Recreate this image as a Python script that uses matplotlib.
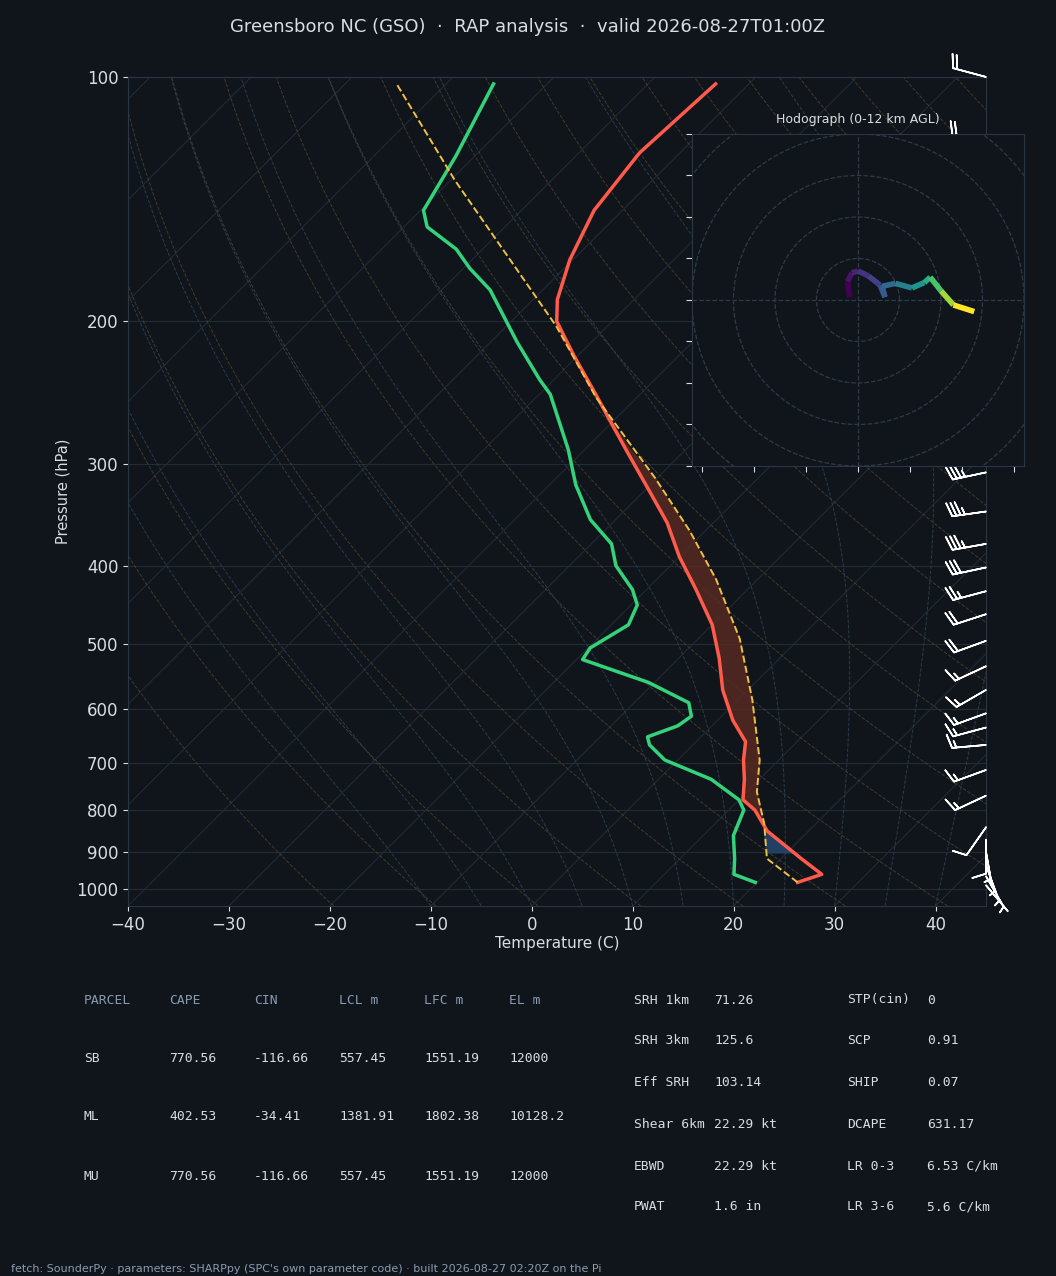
import numpy as np
import matplotlib
matplotlib.use("Agg")
import matplotlib.pyplot as plt
from matplotlib.collections import LineCollection

BG = "#10151c"
FG = "#d8dde3"
SPINE = "#2c3643"

# sounding (hPa, C)
t_pres = [982, 960, 918, 849, 800, 777, 733, 694, 659, 620, 569, 520, 473, 428, 390, 354, 323, 290, 246, 220, 200, 188, 168, 146, 124, 102]
t_temp = [24.0, 25.6, 22.0, 15.9, 12.6, 10.4, 8.5, 6.5, 4.9, 1.5, -2.5, -6.0, -10.0, -15.1, -20.0, -24.6, -29.6, -35.5, -44.4, -50.5, -55.5, -57.6, -60.3, -62.8, -64.0, -63.3]
d_pres = [982, 960, 918, 860, 800, 777, 733, 694, 665, 650, 630, 613, 590, 557, 522, 505, 473, 447, 428, 400, 376, 351, 318, 288, 246, 236, 212, 183, 172, 163, 153, 146, 125, 102]
d_temp = [19.8, 16.9, 15.4, 13.0, 11.5, 10.0, 5.2, -1.3, -4.3, -5.3, -3.4, -3.0, -4.6, -10.6, -19.4, -19.8, -18.3, -19.4, -21.4, -25.4, -28.0, -32.5, -37.4, -41.6, -48.9, -51.4, -57.4, -65.2, -69.4, -72.6, -77.7, -79.7, -81.9, -85.3]
pcl_pres = [982, 918, 830, 760, 694, 585, 492, 416, 362, 312, 248, 203, 134, 102]
pcl_temp = [24.0, 18.6, 14.8, 11.0, 8.1, 1.4, -5.9, -14.1, -21.6, -30.2, -44.1, -55.0, -79.6, -94.9]

# winds (hPa, kt, direction-from deg)
w_pres = [990, 965, 935, 900, 870, 840, 768, 714, 665, 633, 608, 569, 532, 495, 459, 430, 402, 376, 343, 307, 275, 245, 215, 190, 165, 140, 120, 100]
w_spd = [5, 5, 5, 5, 10, 10, 15, 15, 15, 15, 15, 15, 15, 20, 20, 25, 30, 35, 35, 35, 35, 35, 30, 30, 25, 25, 20, 20]
w_dir = [140, 150, 160, 170, 180, 215, 245, 250, 265, 255, 250, 240, 245, 250, 252, 255, 258, 260, 262, 258, 260, 262, 265, 268, 270, 275, 280, 285]

# hodograph (kt)
hodo_u = [-2.0, -2.5, -1.5, 0.0, 2.5, 5.3, 6.5, 5.8, 9.0, 13.0, 16.0, 17.4, 20.0, 23.0, 28.0]
hodo_v = [0.7, 4.5, 6.5, 7.0, 5.8, 3.6, 0.7, 3.3, 4.0, 2.9, 4.2, 5.5, 2.2, -1.2, -2.8]
hodo_z = [0, 0.5, 1.0, 1.5, 2.0, 2.5, 3.0, 3.5, 4.5, 5.5, 6.5, 7.5, 9.0, 10.5, 12.0]

SKEW = 80.5  # C per decade of pressure


def skx(t, p):
    return np.asarray(t) + SKEW * np.log10(1050.0 / np.asarray(p))


fig = plt.figure(figsize=(10.56, 12.76), dpi=100, facecolor=BG)
ax = fig.add_axes([0.1212, 0.29, 0.8125, 0.6497], facecolor=BG)
ax.set_yscale("log")
ax.set_ylim(1050, 100)
ax.set_xlim(-40, 45)

pg = np.logspace(np.log10(1050), 2, 120)
for p0 in [100, 200, 300, 400, 500, 600, 700, 800, 900, 1000]:
    ax.axhline(p0, color="#232b35", lw=0.8, zorder=1)
for t0 in range(-140, 60, 10):
    ax.plot(skx(t0, pg), pg, color="#222a34", lw=0.8, zorder=1)
for th in range(250, 480, 10):
    tt = th * (pg / 1000.0) ** 0.286 - 273.15
    ax.plot(skx(tt, pg), pg, color="#554a30", lw=0.7, ls="--", alpha=0.7, zorder=1)
# moist adiabats (simple pseudo-adiabatic integration)
for ts in range(-10, 45, 5):
    tk = ts + 273.15
    tl = []
    pp = np.logspace(np.log10(1050), 2, 300)
    for i, p in enumerate(pp):
        tl.append(tk - 273.15)
        if i + 1 < len(pp):
            es = 6.112 * np.exp(17.67 * (tk - 273.15) / (tk - 29.65))
            rs = 0.622 * es / (p - es)
            lapse = (287 * tk + 2.5e6 * rs) / (1004 + 2.5e6 ** 2 * rs * 0.622 / (287 * tk ** 2)) / p
            tk += lapse * (pp[i + 1] - p)
    ax.plot(skx(tl, pp), pp, color="#2b3a4a", lw=0.7, ls="--", zorder=1)

# CAPE / CIN shading
pf = np.linspace(980, 250, 300)
tpf = np.interp(pf[::-1], t_pres[::-1], t_temp[::-1])[::-1]
ppf = np.interp(pf[::-1], pcl_pres[::-1], pcl_temp[::-1])[::-1]
ax.fill_betweenx(pf, skx(tpf, pf), skx(ppf, pf), where=(ppf > tpf) & (pf < 820),
                 color="#5a2a22", alpha=0.8, zorder=2)
ax.fill_betweenx(pf, skx(tpf, pf), skx(ppf, pf), where=(tpf > ppf) & (pf > 800) & (pf < 902),
                 color="#24456b", alpha=0.9, zorder=2)

ax.plot(skx(t_temp, t_pres), t_pres, color="#ff5a4a", lw=2.5, zorder=4)
ax.plot(skx(d_temp, d_pres), d_pres, color="#34d27a", lw=2.5, zorder=4)
ax.plot(skx(pcl_temp, pcl_pres), pcl_pres, color="#f0c040", lw=1.4, ls="--", zorder=4)

wd = np.deg2rad(w_dir)
wu = -np.array(w_spd) * np.sin(wd)
wv = -np.array(w_spd) * np.cos(wd)
ax.barbs(np.full(len(w_pres), 45.0), w_pres, wu, wv, color="white", length=7,
         linewidth=1.2, clip_on=False, zorder=5)

ax.set_yticks([100, 200, 300, 400, 500, 600, 700, 800, 900, 1000])
ax.set_yticklabels(["100", "200", "300", "400", "500", "600", "700", "800", "900", "1000"])
ax.yaxis.set_minor_locator(matplotlib.ticker.NullLocator())
ax.set_xticks(range(-40, 50, 10))
ax.tick_params(colors=FG, labelsize=12)
for s in ax.spines.values():
    s.set_color(SPINE)
ax.set_xlabel("Temperature (C)", color=FG, fontsize=11, labelpad=2)
ax.set_ylabel("Pressure (hPa)", color=FG, fontsize=10.5)

# hodograph
hx = fig.add_axes([0.6553, 0.6348, 0.3144, 0.2602], facecolor=BG)
hx.set_xlim(-40, 40)
hx.set_ylim(-40, 40)
ang = np.linspace(0, 2 * np.pi, 200)
for r in range(10, 70, 10):
    hx.plot(r * np.cos(ang), r * np.sin(ang), color="#2e3a48", lw=0.9, ls="--")
hx.axhline(0, color="#2e3a48", lw=0.9, ls="--")
hx.axvline(0, color="#2e3a48", lw=0.9, ls="--")
pts = np.array([hodo_u, hodo_v]).T.reshape(-1, 1, 2)
segs = np.concatenate([pts[:-1], pts[1:]], axis=1)
lc = LineCollection(segs, cmap="viridis", linewidths=4)
lc.set_array(np.array(hodo_z[:-1]))
hx.add_collection(lc)
hx.set_xticks(np.arange(-37.5, 40, 12.5))
hx.set_yticks(range(-40, 41, 10))
hx.set_xticklabels([])
hx.set_yticklabels([])
hx.tick_params(colors=FG, length=4)
for s in hx.spines.values():
    s.set_color(SPINE)
hx.set_title("Hodograph (0-12 km AGL)", color=FG, fontsize=9, pad=8)

fig.text(0.5, 0.979, "Greensboro NC (GSO)  ·  RAP analysis  ·  valid 2026-08-27T01:00Z",
         color=FG, fontsize=13, ha="center", va="center")

# parameter table
MONO = dict(family="DejaVu Sans Mono", fontsize=9.4, va="center")
hdr = ["PARCEL", "CAPE", "CIN", "LCL m", "LFC m", "EL m"]
rows = [["SB", "770.56", "-116.66", "557.45", "1551.19", "12000"],
        ["ML", "402.53", "-34.41", "1381.91", "1802.38", "10128.2"],
        ["MU", "770.56", "-116.66", "557.45", "1551.19", "12000"]]
colx = [84, 169, 254, 339, 424, 509]
for x, h in zip(colx, hdr):
    fig.text(x / 1056, 1 - 1000 / 1276, h, color="#8a9bb0", **MONO)
for yy, row in zip([1058, 1117, 1176], rows):
    for x, v in zip(colx, row):
        fig.text(x / 1056, 1 - yy / 1276, v, color=FG, **MONO)

lab1 = ["SRH 1km", "SRH 3km", "Eff SRH", "Shear 6km", "EBWD", "PWAT"]
val1 = ["71.26", "125.6", "103.14", "22.29 kt", "22.29 kt", "1.6 in"]
lab2 = ["STP(cin)", "SCP", "SHIP", "DCAPE", "LR 0-3", "LR 3-6"]
val2 = ["0", "0.91", "0.07", "631.17", "6.53 C/km", "5.6 C/km"]
for yy, a, b, c, d in zip([1000, 1041, 1083, 1124, 1166, 1207], lab1, val1, lab2, val2):
    for x, s in zip([634, 714, 847, 927], [a, b, c, d]):
        fig.text(x / 1056, 1 - yy / 1276, s, color=FG, **MONO)

fig.text(11 / 1056, 1 - 1269 / 1276,
         "fetch: SounderPy · parameters: SHARPpy (SPC's own parameter code) · built 2026-08-27 02:20Z on the Pi",
         color="#8a9bb0", fontsize=8, va="center")

fig.savefig("out.png", dpi=100, facecolor=BG)
